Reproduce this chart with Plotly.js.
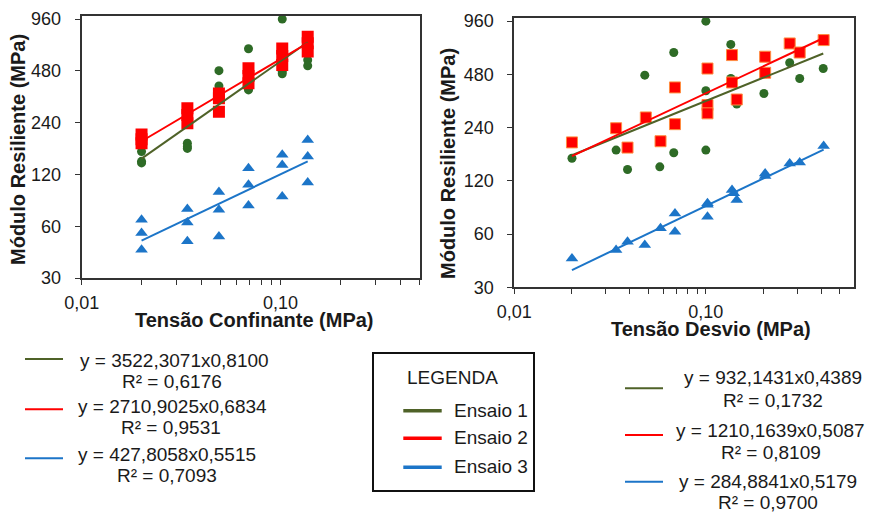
<!DOCTYPE html>
<html><head><meta charset="utf-8">
<script src="https://cdn.plot.ly/plotly-3.0.1.min.js"></script>
<style>html,body{margin:0;padding:0;background:#fff}#c{width:870px;height:512px}</style>
</head><body><div id="c"></div>
<script>
// ---- Data: left chart (Tensão Confinante) ----
const confX = [0.02,0.02,0.02, 0.034,0.034,0.034, 0.049,0.049,0.049, 0.069,0.069,0.069, 0.102,0.102,0.102, 0.137,0.137,0.137];
const confE1 = [163,143,140, 182,174,170, 481,392,340, 645,380,372, 960,475,462, 600,555,514];
const confE2 = [205,192,182, 291,266,238, 355,333,278, 497,448,406, 648,586,519, 758,694,621];
const confE3 = [65.5,54.7,43.8, 75.5,63,49, 94.7,74.8,52.3, 130.5,104.4,79.2, 156,136,89.4, 190.5,152.5,107.7];

// ---- Data: right chart (Tensão Desvio) ----
const devX1 = [0.02,0.034,0.039,0.048,0.0575,0.068,0.068,0.1,0.1,0.1,0.135,0.135,0.145,0.201,0.204,0.274,0.309,0.41];
const devE1 = [161,179,139,475,144,638,173,960,388,179,709,455,326,374,482,558,455,518];
const devX2 = [0.02,0.034,0.039,0.0486,0.058,0.069,0.069,0.102,0.102,0.102,0.137,0.137,0.145,0.204,0.204,0.274,0.309,0.412];
const devE2 = [198,238,185,274,201,405,251,518,322,289,617,432,346,604,490,718,638,750];
const devX3 = [0.02,0.034,0.039,0.048,0.058,0.069,0.069,0.102,0.102,0.102,0.137,0.14,0.145,0.204,0.204,0.274,0.309,0.412];
const devE3 = [43.7,48.8,54.3,52,64.7,78.5,61.9,89.5,75.2,88,106.4,102,93.5,132,128,150.6,152.6,188.7];

// ---- Fit coefficients (y = a x^b) ----
const confA = [3522.3071, 2710.9025, 427.8058];
const confB = [0.8100, 0.6834, 0.5515];
const confR2 = ['0,6176','0,9531','0,7093'];
const devA = [932.1431, 1210.1639, 284.8841];
const devB = [0.4389, 0.5087, 0.5179];
const devR2 = ['0,1732','0,8109','0,9700'];

const yTicks = [30,60,120,240,480,960];
const xTicksL = [0.01,0.02,0.03,0.04,0.05,0.06,0.07,0.08,0.09,0.1,0.2,0.3,0.4,0.5];
const xTicksR = [0.01,0.02,0.03,0.04,0.05,0.06,0.07,0.08,0.09,0.1,0.2,0.3,0.4,0.5,0.6];
const xLabel = v => v===0.01 ? '0,01' : (v===0.1 ? '0,10' : '');
const seriesNames = ['Ensaio 1','Ensaio 2','Ensaio 3'];

const W=870, H=512;
const px = x => x/W, py = y => 1 - y/H;

const markerCol = ['#2e6b26','#ff0000','#1c75c8'];
const lineCol = ['#4f6228','#ff0000','#1c75c8'];
const syms = ['circle','square','triangle-up'];
const sizes = [9,12,11];

function fit(a,b,xs){
  const x0=Math.min(...xs), x1=Math.max(...xs);
  return {x:[x0,x1], y:[a*Math.pow(x0,b), a*Math.pow(x1,b)]};
}

const traces = [];
const confY = [confE1,confE2,confE3];
[0,1,2].forEach(i=>{
  traces.push({x:confX,y:confY[i],type:'scatter',mode:'markers',xaxis:'x',yaxis:'y',
    marker:{symbol:syms[i],size:sizes[i],color:markerCol[i],line:{width:0}},hoverinfo:'skip'});
});
[0,1,2].forEach(i=>{
  const f=fit(confA[i],confB[i],confX);
  traces.push({x:f.x,y:f.y,type:'scatter',mode:'lines',xaxis:'x',yaxis:'y',line:{color:lineCol[i],width:2}});
});
const devXs=[devX1,devX2,devX3], devY=[devE1,devE2,devE3];
[0,1,2].forEach(i=>{
  traces.push({x:devXs[i],y:devY[i],type:'scatter',mode:'markers',xaxis:'x2',yaxis:'y2',
    marker:{symbol:syms[i],size:i===1?11:sizes[i],color:markerCol[i],line:{width:i===1?1:0,color:'#ff8c40'}},hoverinfo:'skip'});
});
[0,1,2].forEach(i=>{
  const f=fit(devA[i],devB[i],devXs[i]);
  traces.push({x:f.x,y:f.y,type:'scatter',mode:'lines',xaxis:'x2',yaxis:'y2',line:{color:lineCol[i],width:2}});
});

const font = 'Liberation Sans, Arial, sans-serif';
const txtCol = '#1a1a1a';
function xax(domain, ticks, range){
  return {type:'log',domain:domain,range:[Math.log10(range[0]),Math.log10(range[1])],
    tickvals:ticks,ticktext:ticks.map(xLabel),ticks:'outside',ticklen:5,tickwidth:1,tickcolor:'#333',
    showline:true,linecolor:'#333',linewidth:2,mirror:true,showgrid:false,zeroline:false,
    tickfont:{family:font,size:18,color:txtCol},ticklabelstandoff:2,automargin:false,fixedrange:true};
}
function yax(domain, anchor){
  return {type:'log',domain:domain,anchor:anchor,range:[Math.log10(30),3],tickvals:yTicks,ticktext:yTicks.map(String),
    ticks:'outside',ticklen:5,tickwidth:1,tickcolor:'#333',showline:true,linecolor:'#333',linewidth:2,mirror:true,
    showgrid:false,zeroline:false,tickfont:{family:font,size:18,color:txtCol},ticklabelstandoff:10,automargin:false,fixedrange:true};
}

const layout = {
  width:W,height:H,margin:{l:0,r:0,t:0,b:0},paper_bgcolor:'#fff',plot_bgcolor:'#fff',showlegend:false,
  xaxis: Object.assign(xax([px(81.7),px(419.5)],xTicksL,[0.01,0.5]),{anchor:'y'}),
  yaxis: yax([py(278),py(16)],'x'),
  xaxis2: Object.assign(xax([px(514.3),px(853.5)],xTicksR,[0.01,0.59]),{anchor:'y2'}),
  yaxis2: yax([py(287.3),py(18)],'x2'),
  annotations:[],shapes:[]
};

const A = layout.annotations, S = layout.shapes;
function ann(text,x,y,opt){
  A.push(Object.assign({text:text,xref:'paper',yref:'paper',x:px(x),y:py(y),xanchor:'center',yanchor:'middle',
    showarrow:false,font:{family:font,size:19,color:txtCol}},opt||{}));
}
function seg(x0,x1,y,col,w){
  S.push({type:'line',xref:'paper',yref:'paper',x0:px(x0),x1:px(x1),y0:py(y),y1:py(y),line:{color:col,width:w}});
}
const tf = {family:font,size:20,color:txtCol};
// axis titles
ann('<b>Módulo Resiliente (MPa)</b>',18,150,{textangle:-90,font:tf});
ann('<b>Tensão Confinante (MPa)</b>',255,319.5,{font:tf});
ann('<b>Tensão Desvio (MPa)</b>',710.5,328.5,{font:tf});
ann('<b>Módulo Resiliente (MPa)</b>',448,164,{textangle:-90,font:tf});

// left equations
const fmt = (a,b)=>'y = '+a.toFixed(4).replace('.',',')+'x'+b.toFixed(4).replace('.',',');
const lEq=[[174,360.5,172,381],[172.5,406.5,170.5,427.5],[166.7,454.5,166.7,475.5]];
const lLine=[359,409.3,458.3];
[0,1,2].forEach(i=>{
  seg(25,63,lLine[i],lineCol[i],2);
  ann(fmt(confA[i],confB[i]),lEq[i][0],lEq[i][1]);
  ann('R² = '+confR2[i],lEq[i][2],lEq[i][3]);
});
// right equations
const rEq=[[773.3,377.3,773.3,400],[770.7,430,770.8,452.7],[767.5,481.7,768.3,502.5]];
const rLine=[388.3,435,481.7];
[0,1,2].forEach(i=>{
  seg(625,663,rLine[i],lineCol[i],2);
  ann(fmt(devA[i],devB[i]),rEq[i][0],rEq[i][1]);
  ann('R² = '+devR2[i],rEq[i][2],rEq[i][3]);
});
// LEGENDA box
S.push({type:'rect',xref:'paper',yref:'paper',x0:px(373),x1:px(534),y0:py(353),y1:py(491),line:{color:'#111',width:2}});
ann('LEGENDA',405,377,{xanchor:'left'});
const bY=[410.7,438.3,467.3];
[0,1,2].forEach(i=>{
  seg(403.3,441.7,bY[i],lineCol[i],3.5);
  ann(seriesNames[i],451.7,bY[i]-0.5,{xanchor:'left'});
});

Plotly.newPlot('c',traces,layout,{staticPlot:true,displayModeBar:false});
</script></body></html>
